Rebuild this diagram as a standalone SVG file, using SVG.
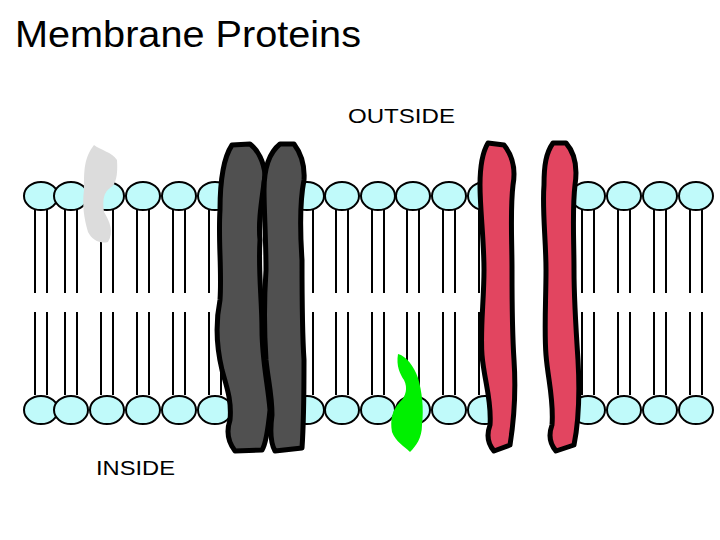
<svg xmlns="http://www.w3.org/2000/svg" width="720" height="540" viewBox="0 0 720 540">
<defs>
<style>
.head{fill:#c0fafa;stroke:#000;stroke-width:2}
.tail{stroke:#000;stroke-width:2}
.prot{stroke:#000;stroke-width:5;stroke-linejoin:round}
text{font-family:"Liberation Sans",Arial,sans-serif;fill:#000}
</style>
<g id="lipid">
<line class="tail" x1="-6" y1="14" x2="-6" y2="97"/><line class="tail" x1="6" y1="14" x2="6" y2="97"/>
<line class="tail" x1="-6" y1="116" x2="-6" y2="199"/><line class="tail" x1="6" y1="116" x2="6" y2="199"/>
<ellipse class="head" cx="0" cy="0" rx="17" ry="14"/>
<ellipse class="head" cx="0" cy="214" rx="17" ry="14"/>
</g>
</defs>
<rect width="720" height="540" fill="#fff"/>
<text x="15" y="47" font-size="37" textLength="346" lengthAdjust="spacingAndGlyphs">Membrane Proteins</text>
<text id="outside" x="348" y="123" font-size="21" textLength="107" lengthAdjust="spacingAndGlyphs">OUTSIDE</text>
<text id="inside" x="96" y="475" font-size="21" textLength="79" lengthAdjust="spacingAndGlyphs">INSIDE</text>
<g id="membrane">
<use href="#lipid" x="41" y="196"/><use href="#lipid" x="71" y="196"/><use href="#lipid" x="107" y="196"/>
<use href="#lipid" x="143" y="196"/><use href="#lipid" x="179" y="196"/><use href="#lipid" x="215" y="196"/>
<use href="#lipid" x="251" y="196"/><use href="#lipid" x="307" y="196"/><use href="#lipid" x="342" y="196"/>
<use href="#lipid" x="378" y="196"/><use href="#lipid" x="413" y="196"/><use href="#lipid" x="449" y="196"/>
<use href="#lipid" x="485" y="196"/><use href="#lipid" x="588" y="196"/><use href="#lipid" x="624" y="196"/>
<use href="#lipid" x="660" y="196"/><use href="#lipid" x="696" y="196"/>
</g>
<g id="peripheral-gray">
<path d="M94,145 C100,150 112,152 117,160 C118,175 116,185 110,188 C104,192 102,200 104,212 C110,222 114,232 108,242 C100,244 92,240 88,232 C84,218 82,205 84,190 C84,170 84,158 94,145 Z" fill="#dcdcdc"/>
</g>
<g id="channel-gray">
<path class="prot" d="M232,145 L250,144 C258,150 264,162 265,175 C262,200 258,220 260,240 C258,270 262,300 262,330 C262,360 268,385 270,410 C268,430 266,444 262,450 L235,451 C228,442 226,432 230,420 C232,400 226,385 222,370 C216,345 216,320 220,300 C222,270 218,240 220,210 C220,185 222,160 232,145 Z" fill="#505050"/>
<path class="prot" d="M280,144 L294,144 C300,152 305,165 304,180 C300,200 300,230 302,260 C302,300 302,330 304,360 C304,390 304,420 302,448 L275,451 C270,442 270,430 272,415 C272,395 268,380 266,360 C264,330 264,300 266,270 C266,240 264,210 264,190 C264,168 270,152 280,144 Z" fill="#505050"/>
</g>
<g id="channel-red">
<path class="prot" d="M488,143 L504,145 C512,155 516,168 513,185 C510,210 512,240 512,270 C512,300 512,330 514,360 C516,390 514,420 510,445 L494,451 C488,444 486,436 490,425 C492,400 484,380 482,355 C480,330 484,300 484,270 C484,240 480,210 480,185 C480,165 482,153 488,143 Z" fill="#e24560"/>
<path class="prot" d="M553,143 L566,143 C574,152 578,165 575,185 C572,210 574,240 574,270 C574,300 576,330 578,360 C580,395 578,425 574,445 L556,451 C550,444 548,436 552,425 C554,400 548,380 546,355 C544,330 546,300 546,270 C546,240 542,210 544,185 C544,165 546,153 553,143 Z" fill="#e24560"/>
</g>
<g id="peripheral-green">
<path d="M398,354 C406,356 414,366 418,378 C422,392 424,408 422,425 C422,438 416,446 410,452 C404,446 396,442 392,432 C390,420 392,410 400,402 C406,396 408,388 404,380 C400,374 396,366 398,354 Z" fill="#00f000"/>
</g>
</svg>
